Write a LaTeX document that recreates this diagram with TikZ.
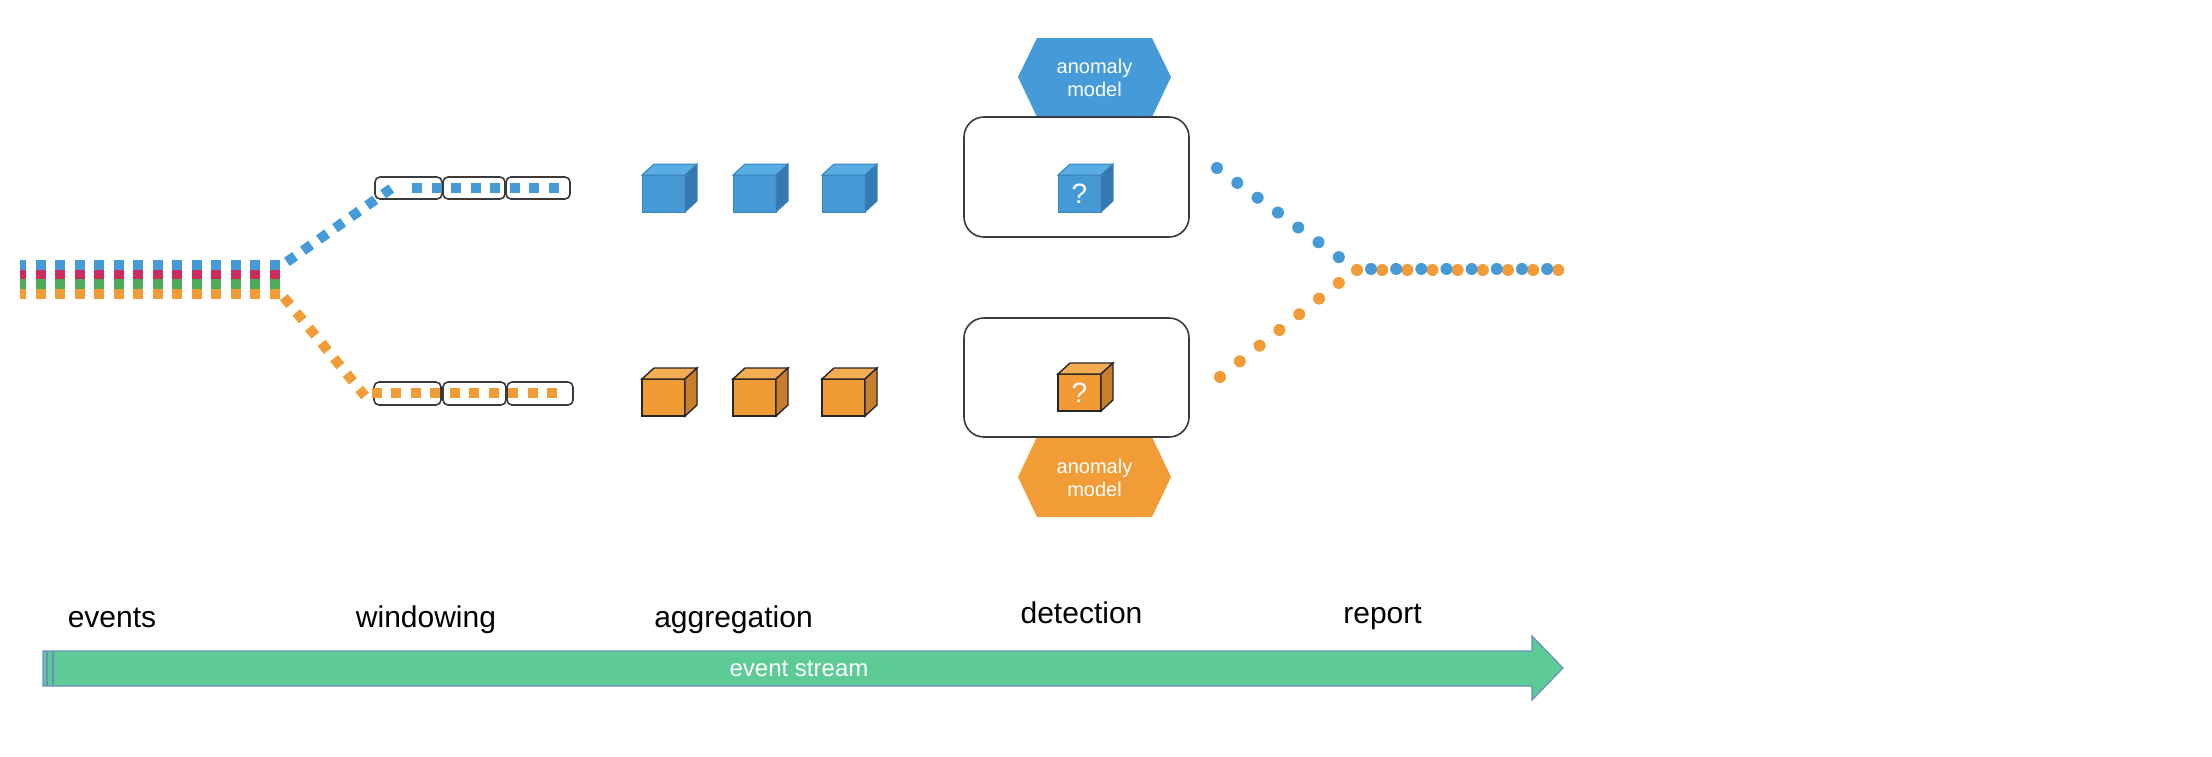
\documentclass[tikz,border=0pt]{standalone}
\usepackage{fontspec}
\setmainfont{Liberation Sans}
\definecolor{cblue}{HTML}{449BD8}
\definecolor{cred}{HTML}{CC2D5E}
\definecolor{cgreen}{HTML}{4CAC5C}
\definecolor{corange}{HTML}{F29C37}
\definecolor{bfront}{HTML}{4599D5}
\definecolor{btop}{HTML}{58AEE2}
\definecolor{bside}{HTML}{3479B2}
\definecolor{bedge}{HTML}{3A84C0}
\definecolor{ofront}{HTML}{F09B36}
\definecolor{otop}{HTML}{F4AD50}
\definecolor{oside}{HTML}{C97E2C}
\definecolor{arrfill}{HTML}{5CCB96}
\definecolor{arredge}{HTML}{6C8EBF}
\definecolor{boxedge}{HTML}{3A3A3A}
\tikzset{
  stripe/.style={line width=5pt, dash pattern=on 5pt off 4.75pt, dash phase=1.9pt},
  sqline/.style={line width=5pt, dash pattern=on 5pt off 4.8pt},
  dotline/.style={line width=6pt, line cap=round, dash pattern=on 0.01pt off 12.57pt},
  winbox/.style={draw=boxedge, line width=0.8pt, rounded corners=2.5pt, inner sep=0pt, outer sep=0pt, minimum height=11pt},
  detbox/.style={draw=boxedge, line width=0.8pt, rounded corners=10pt, inner sep=0pt, outer sep=0pt, minimum width=112.5pt, minimum height=60pt},
  hextext/.style={text=white, font=\fontsize{10}{11.5}\selectfont, align=center, inner sep=0pt},
  qmark/.style={text=white, font=\fontsize{14}{16}\selectfont, inner sep=0pt},
  stage/.style={anchor=base, font=\fontsize{15}{18}\selectfont, inner sep=0pt},
  pics/bcube/.style={code={
    \filldraw[draw=bedge, line width=0.5pt, fill=bfront] (0,0) rectangle (43,37);
    \filldraw[draw=bedge, line width=0.5pt, fill=btop] (0,0) -- (12,-11) -- (55,-11) -- (43,0) -- cycle;
    \filldraw[draw=bedge, line width=0.5pt, fill=bside] (43,0) -- (55,-11) -- (55,26) -- (43,37) -- cycle;
  }},
  pics/ocube/.style={code={
    \filldraw[draw=black!85, line width=0.7pt, fill=ofront] (0,0) rectangle (43,37);
    \filldraw[draw=black!85, line width=0.7pt, fill=otop] (0,0) -- (12,-11) -- (55,-11) -- (43,0) -- cycle;
    \filldraw[draw=black!85, line width=0.7pt, fill=oside] (43,0) -- (55,-11) -- (55,26) -- (43,37) -- cycle;
  }},
}
\begin{document}
\begin{tikzpicture}[x=0.5pt, y=-0.5pt]
\useasboundingbox[fill=white] (0,0) rectangle (2212,756);

% ---- events stream (stacked stripes)
\coordinate (evBs) at (20,265);   \coordinate (evBe) at (280,265);
\coordinate (evRs) at (20,274.7); \coordinate (evRe) at (280,274.7);
\coordinate (evGs) at (20,284.4); \coordinate (evGe) at (280,284.4);
\coordinate (evOs) at (20,294.2); \coordinate (evOe) at (280,294.2);
\draw[stripe, cblue]   (evBs) -- (evBe);
\draw[stripe, cred]    (evRs) -- (evRe);
\draw[stripe, cgreen]  (evGs) -- (evGe);
\draw[stripe, corange] (evOs) -- (evOe);

% ---- windowing boxes
\node[winbox, minimum width=33.5pt] (wA1) at (408.5,188) {};
\node[winbox, minimum width=31pt]   (wA2) at (474,188) {};
\node[winbox, minimum width=32pt]   (wA3) at (538,188) {};
\node[winbox, minimum width=33.5pt, minimum height=11.5pt] (wB1) at (407.5,393.5) {};
\node[winbox, minimum width=31.5pt, minimum height=11.5pt] (wB2) at (474.5,393.5) {};
\node[winbox, minimum width=33pt, minimum height=11.5pt]   (wB3) at (540,393.5) {};

% ---- split paths
\coordinate (bS) at (286.9,261.9);
\coordinate (bC) at (392,188);
\coordinate (bH) at (412,188);
\coordinate (bE) at (559,188);
\draw[sqline, cblue] (bS) -- (bC);
\draw[sqline, cblue, dash pattern=on 5pt off 4.75pt] (bH) -- (bE);

\coordinate (oS) at (283.8,297.1);
\coordinate (oC) at (365,396);
\coordinate (oH) at (371.5,393);
\coordinate (oE) at (557.5,393);
\draw[sqline, corange, dash pattern=on 5pt off 4.9pt] (oS) -- (oC);
\draw[sqline, corange, dash pattern=on 5pt off 4.75pt] (oH) -- (oE);

% ---- aggregation cubes
\pic (cA1) at (642,175) {bcube};
\pic (cA2) at (733,175) {bcube};
\pic (cA3) at (822,175) {bcube};
\pic (cB1) at (642,379) {ocube};
\pic (cB2) at (733,379) {ocube};
\pic (cB3) at (822,379) {ocube};

% ---- detection
\fill[cblue] (1018,77) -- (1037,38) -- (1152,38) -- (1171,77) -- (1152,117) -- (1037,117) -- cycle;
\node[hextext] (modelA) at (1094.5,78) {anomaly\\model};
\fill[corange] (1018,477) -- (1037,437) -- (1152,437) -- (1171,477) -- (1152,517) -- (1037,517) -- cycle;
\node[hextext] (modelB) at (1094.5,478) {anomaly\\model};

\node[detbox] (detA) at (1076.5,177) {};
\node[detbox, minimum height=59.5pt] (detB) at (1076.5,377.5) {};

\pic (qcA) at (1058,175) {bcube};
\node[qmark] (qA) at (1079.5,194) {?};
\pic (qcB) at (1058,374) {ocube};
\node[qmark] (qB) at (1079.5,393) {?};

% ---- report merge
\coordinate (rbS) at (1217,168);  \coordinate (rbE) at (1340,258);
\coordinate (roS) at (1220,377);  \coordinate (roE) at (1340,282);
\coordinate (moS) at (1357,270);  \coordinate (moE) at (1560,270);
\coordinate (mbS) at (1371,269);  \coordinate (mbE) at (1549,269);
\draw[dotline, cblue] (rbS) -- (rbE);
\draw[dotline, corange, dash pattern=on 0.01pt off 12.62pt] (roS) -- (roE);
\draw[dotline, corange] (moS) -- (moE);
\draw[dotline, cblue] (mbS) -- (mbE);

% ---- stage labels
\node[stage] (lEvents) at (112,627) {events};
\node[stage] (lWin) at (426,627) {windowing};
\node[stage] (lAgg) at (733.5,627) {aggregation};
\node[stage] (lDet) at (1081.5,623) {detection};
\node[stage] (lRep) at (1382.5,623) {report};

% ---- event stream arrow
\filldraw[fill=arrfill, draw=arredge, line width=0.6pt]
  (43,651) -- (1532,651) -- (1532,636) -- (1563,668) -- (1532,700) -- (1532,686) -- (43,686) -- cycle;
\draw[arredge, line width=1.2pt] (47,651) -- (47,686);
\draw[arredge, line width=1pt] (53,651) -- (53,686);
\node[text=white, font=\fontsize{12}{14}\selectfont, inner sep=0pt] (streamLbl) at (799,669) {event stream};
\end{tikzpicture}
\end{document}
